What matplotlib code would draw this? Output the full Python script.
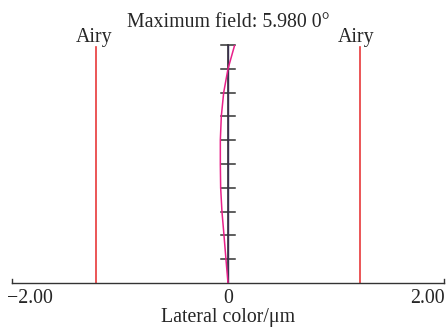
import matplotlib
matplotlib.use("Agg")
import matplotlib.pyplot as plt
import numpy as np

plt.rcParams['font.family'] = ['Liberation Serif', 'DejaVu Serif']

# Relative field (0 = on axis, 1 = maximum field)
field = [0.0, 0.1, 0.2, 0.3, 0.4, 0.5, 0.6, 0.7, 0.8, 0.9, 1.0]
# Lateral colour (µm) of the short-to-long wavelength pair
lateral_color = [0.0, -0.019, -0.037, -0.056, -0.068, -0.071, -0.071, -0.062, -0.040, 0.0, 0.062]
# Reference wavelength (on the axis)
lateral_ref = [0.0] * len(field)
airy_radius = 1.22
x_limits = [-2.0, 2.0]
tick_values = [-2.0, 0.0, 2.0]
tick_labels = ["\u22122.00", "0", "2.00"]
field_ticks = np.linspace(0, 1, 11)

FS = 14.3
TXT = '#262626'

fig = plt.figure(figsize=(4.47, 3.27), dpi=100)
ax = fig.add_axes([12 / 447, 1 - 283 / 327, (444 - 12) / 447, (283 - 45) / 327])
ax.set_xlim(*x_limits)
ax.set_ylim(0, 1)
for s in ['top', 'left', 'right']:
    ax.spines[s].set_visible(False)
ax.spines['bottom'].set_color('#333333')
ax.spines['bottom'].set_linewidth(1.0)
ax.set_xticks([])
ax.set_yticks([])

# end caps of the lateral colour axis
for xv in x_limits:
    ax.plot([xv, xv], [0, 0.016], color='#333333', lw=1.0, clip_on=False)

# field axis with ticks
ax.plot([0, 0], [0, 1], color='#333333', lw=1.2, clip_on=False, zorder=2)
for f in field_ticks[1:]:
    ax.plot([-0.068, 0.068], [f, f], color='#333333', lw=1.1, clip_on=False, zorder=2)

# Airy disk radius
for xv, dx in ((-airy_radius, -0.02), (airy_radius, -0.035)):
    ax.plot([xv, xv], [0, 0.992], color='#e8383a', lw=1.2, clip_on=False)
    ax.text(xv + dx, 1.0126, "Airy", ha='center', va='baseline', fontsize=FS, color=TXT)

ax.plot(lateral_ref, field, color='#3a3050', lw=1.0, zorder=3)
ax.plot(lateral_color, field, color='#e8208a', lw=1.1, zorder=4)

ax.text(0.5, 1.0756, "Maximum field: 5.980 0\u00b0", transform=ax.transAxes,
        ha='center', va='baseline', fontsize=FS, color=TXT)

label_x = [-1.833, 0.0, 1.849]
for xv, lab in zip(label_x, tick_labels):
    ax.text(xv, -0.0861, lab, ha='center', va='baseline', fontsize=FS, color=TXT)
ax.text(0.0, -0.1639, "Lateral color/\u03bcm", ha='center', va='baseline', fontsize=FS, color=TXT)

fig.savefig("out.png", dpi=100, facecolor='white')
